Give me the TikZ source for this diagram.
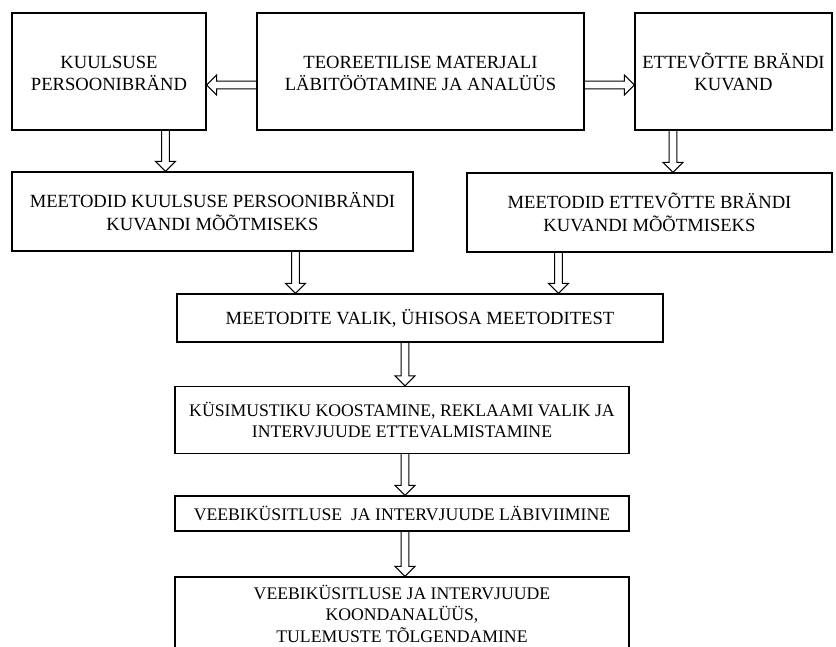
\documentclass[tikz,border=0pt]{standalone}
\usepackage{fontspec}
\setmainfont{Liberation Serif}
\usetikzlibrary{calc}

% hollow block arrows: half shaft width, half head width, head length
\newcommand\arwShaft{3.8pt}
\newcommand\arwHead{10pt}
\newcommand\arwLen{10pt}

% hollow arrow pointing down, at horizontal position #1, from node #2 to node #3
\newcommand\arrowdown[3]{%
  \draw[hollow] let \p1=(#2.south), \p2=(#3.north) in
    (#1-\arwShaft,\y1) -- (#1-\arwShaft,\y2+\arwLen) -- (#1-\arwHead,\y2+\arwLen)
    -- (#1,\y2) -- (#1+\arwHead,\y2+\arwLen) -- (#1+\arwShaft,\y2+\arwLen)
    -- (#1+\arwShaft,\y1);}
% hollow arrow pointing left, at height #1, from node #2 to node #3
\newcommand\arrowleft[3]{%
  \draw[hollow] let \p1=(#2.west), \p2=(#3.east) in
    (\x1,#1+\arwShaft) -- (\x2+\arwLen,#1+\arwShaft) -- (\x2+\arwLen,#1+\arwHead)
    -- (\x2,#1) -- (\x2+\arwLen,#1-\arwHead) -- (\x2+\arwLen,#1-\arwShaft)
    -- (\x1,#1-\arwShaft);}
% hollow arrow pointing right, at height #1, from node #2 to node #3
\newcommand\arrowright[3]{%
  \draw[hollow] let \p1=(#2.east), \p2=(#3.west) in
    (\x1,#1+\arwShaft) -- (\x2-\arwLen,#1+\arwShaft) -- (\x2-\arwLen,#1+\arwHead)
    -- (\x2,#1) -- (\x2-\arwLen,#1-\arwHead) -- (\x2-\arwLen,#1-\arwShaft)
    -- (\x1,#1-\arwShaft);}
% text block lowered inside its box
\newcommand\lowertext[2]{\raisebox{-#1}[0pt][0pt]{\begin{tabular}{@{}c@{}}#2\end{tabular}}}

\begin{document}
\begin{tikzpicture}[x=1pt,y=-1pt,
  stagebox/.style={draw, line width=1.3pt, rectangle, align=center, inner sep=0pt,
    font=\fontsize{18.6pt}{22.5pt}\selectfont},
  lowbox/.style={stagebox, font=\fontsize{17.7pt}{21.5pt}\selectfont},
  hollow/.style={draw, line width=1pt, line join=miter}]
\useasboundingbox (0,0) rectangle (836,646);
\clip (0,0) rectangle (836,646);

% top row
\node[stagebox, minimum width=194pt, minimum height=117pt] (celeb) at (109,71.5)
  {\lowertext{8pt}{KUULSUSE\\PERSOONIBRÄND}};
\node[stagebox, minimum width=327pt, minimum height=117pt] (theory) at (420.5,71.5)
  {\lowertext{8pt}{TEOREETILISE MATERJALI\\LÄBITÖÖTAMINE JA ANALÜÜS}};
\node[stagebox, minimum width=197pt, minimum height=117pt] (corp) at (733.5,71.5)
  {\lowertext{8pt}{ETTEVÕTTE BRÄNDI\\KUVAND}};

% method boxes
\node[stagebox, minimum width=401pt, minimum height=79pt] (celebm) at (212.5,211.5)
  {MEETODID KUULSUSE PERSOONIBRÄNDI\\KUVANDI MÕÕTMISEKS};
\node[stagebox, minimum width=365pt, minimum height=79pt] (corpm) at (649.5,212.5)
  {MEETODID ETTEVÕTTE BRÄNDI\\KUVANDI MÕÕTMISEKS};

% central column
\node[stagebox, minimum width=486pt, minimum height=48pt] (choice) at (420,318)
  {MEETODITE VALIK, ÜHISOSA MEETODITEST};
\node[lowbox, minimum width=454pt, minimum height=67pt] (prep) at (402,420)
  {KÜSIMUSTIKU KOOSTAMINE, REKLAAMI VALIK JA\\INTERVJUUDE ETTEVALMISTAMINE};
\node[lowbox, minimum width=454pt, minimum height=35pt] (run) at (402,513.5)
  {VEEBIKÜSITLUSE \ JA INTERVJUUDE LÄBIVIIMINE};
\node[lowbox, minimum width=454pt, minimum height=73pt] (result) at (402,613.5)
  {VEEBIKÜSITLUSE JA INTERVJUUDE\\KOONDANALÜÜS,\\TULEMUSTE TÕLGENDAMINE};

% connectors
\arrowleft{-85pt}{theory}{celeb}
\arrowright{-85pt}{theory}{corp}
\arrowdown{165.5pt}{celeb}{celebm}
\arrowdown{673pt}{corp}{corpm}
\arrowdown{295.5pt}{celebm}{choice}
\arrowdown{558.5pt}{corpm}{choice}
\arrowdown{405pt}{choice}{prep}
\arrowdown{405pt}{prep}{run}
\arrowdown{405pt}{run}{result}
\end{tikzpicture}
\end{document}
